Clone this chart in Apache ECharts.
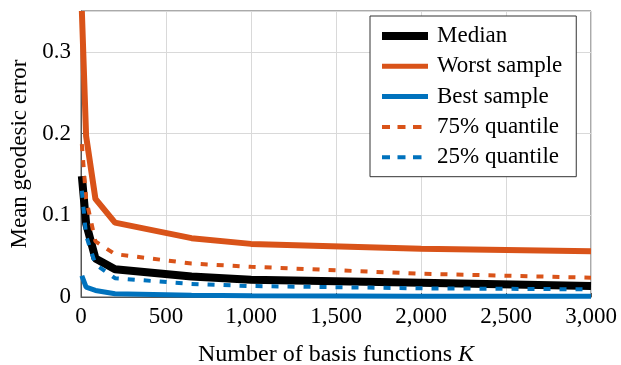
<!DOCTYPE html>
<html><head><meta charset="utf-8">
<script src="https://cdn.jsdelivr.net/npm/echarts@6/dist/echarts.min.js"></script>
<style>html,body{margin:0;padding:0;background:#fff}#c{width:621px;height:365px}</style>
</head><body><div id="c"></div>
<script>
const K = [5, 30, 85, 200, 650, 1000, 2000, 3000];
const median = [0.148, 0.09, 0.047, 0.034, 0.025, 0.021, 0.0175, 0.0134];
const worst = [0.35, 0.197, 0.12, 0.091, 0.072, 0.065, 0.059, 0.056];
const best = [0.026, 0.012, 0.008, 0.004, 0.002, 0.0015, 0.001, 0.001];
const q75 = [0.187, 0.12, 0.068, 0.0525, 0.041, 0.037, 0.0285, 0.0236];
const q25 = [0.13, 0.075, 0.04, 0.023, 0.016, 0.0134, 0.0106, 0.0094];
const xTicks = [0, 500, 1000, 1500, 2000, 2500, 3000];
const yTicks = [0, 0.1, 0.2, 0.3];

const ORANGE = '#D95319', BLUE = '#0072BD';
const FONT = 'Liberation Serif';
const pairs = a => K.map((k, i) => [k, a[i]]);
const mk = (name, data, color, width, type, z) => ({
  name, type: 'line', data: pairs(data), showSymbol: false, symbol: 'none',
  lineStyle: { color, width, type, join: 'bevel' }, itemStyle: { color }, z
});
const solidIcon = h => 'path://M0,0L0,10M46,0L46,10M0,' + (5 - h / 2) + 'h46v' + h + 'h-46z';
const dashIcon = 'path://M0,0L0,10M46,0L46,10M0,3h8v4h-8zM15.5,3h8v4h-8zM31,3h8.5v4h-8.5z';

const chart = echarts.init(document.getElementById('c'));
chart.setOption({
  animation: false,
  grid: { left: 81, right: 30, top: 11, bottom: 68, outerBoundsMode: 'none', containLabel: false,
    show: true, borderColor: '#555', borderWidth: 1 },
  xAxis: [{
    type: 'value', min: 0, max: 3000, interval: 500,
    axisLine: { show: true, lineStyle: { color: '#555' } },
    axisTick: { show: true, inside: true, length: 4, lineStyle: { color: '#555' } },
    splitLine: { show: true, lineStyle: { color: '#d9d9d9', width: 1 } },
    axisLabel: { color: '#000', fontFamily: FONT, fontSize: 23, margin: 8,
      formatter: v => xTicks.includes(v) ? v.toLocaleString('en-US') : '' },
    name: '{a|Number of basis functions }{b|K}', nameLocation: 'middle', nameGap: 46,
    nameTextStyle: { rich: { a: { fontFamily: FONT, fontSize: 24, color: '#000' },
      b: { fontFamily: FONT, fontSize: 24, color: '#000', fontStyle: 'italic' } } }
  }],
  yAxis: [{
    type: 'value', min: 0, max: 0.35, interval: 0.1,
    axisLine: { show: true, lineStyle: { color: '#555' } },
    axisTick: { show: true, inside: true, length: 4, lineStyle: { color: '#555' } },
    splitLine: { show: true, lineStyle: { color: '#d9d9d9', width: 1 } },
    axisLabel: { color: '#000', fontFamily: FONT, fontSize: 23, margin: 10, showMaxLabel: false,
      formatter: v => { const t = yTicks.find(y => Math.abs(y - v) < 1e-9); return t === undefined ? '' : String(t); } },
    name: 'Mean geodesic error', nameLocation: 'middle', nameGap: 46,
    nameTextStyle: { fontFamily: FONT, fontSize: 23, color: '#000' }
  }],
  legend: {
    orient: 'vertical', left: 370, top: 16, padding: [8.5, 14, 8, 12],
    backgroundColor: '#fff', borderColor: '#333', borderWidth: 1, borderRadius: 0,
    itemWidth: 46, itemHeight: 10, itemGap: 7.3,
    itemStyle: { borderWidth: 0 },
    textStyle: { fontFamily: FONT, fontSize: 23, color: '#000', padding: [0, 0, 0, 4] },
    data: [
      { name: 'Median', icon: solidIcon(8) },
      { name: 'Worst sample', icon: solidIcon(5) },
      { name: 'Best sample', icon: solidIcon(5) },
      { name: '75% quantile', icon: dashIcon },
      { name: '25% quantile', icon: dashIcon }
    ]
  },
  series: [
    mk('Median', median, '#000', 8, 'solid', 2),
    mk('Worst sample', worst, ORANGE, 6, 'solid', 3),
    mk('Best sample', best, BLUE, 5, 'solid', 4),
    mk('75% quantile', q75, ORANGE, 4, [7, 9], 5),
    mk('25% quantile', q25, BLUE, 4, [7, 9], 6)
  ]
});
</script></body></html>
